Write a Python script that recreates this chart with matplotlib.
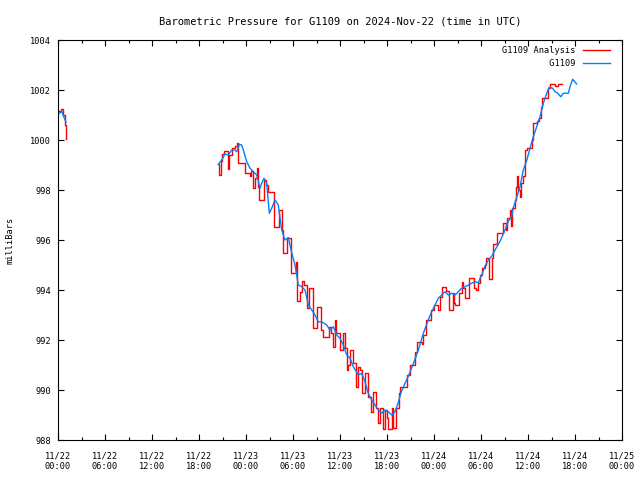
import numpy as np
import pandas as pd
import matplotlib
matplotlib.use("Agg")
import matplotlib.pyplot as plt
import matplotlib.dates as mdates

# hours after 2024-11-22 00:00 UTC, pressure in mb
red_hours = [0.0, 0.38, 0.64, 0.9, 1.0,
             20.47, 20.6, 20.8, 20.97, 21.19, 21.66, 21.87, 22.17, 22.6, 22.79,
             23.02, 23.87, 24.51, 24.64, 24.86, 25.2, 25.37, 25.57, 25.7, 26.3,
             26.55, 26.85, 27.57, 28.25, 28.56, 28.76, 29.2, 29.7, 30.38, 30.55,
             30.9, 31.11, 31.4, 31.75, 32.08, 32.51, 32.6, 33.1, 33.54, 33.79,
             34.63, 34.85, 35.15, 35.4, 35.55, 36.0, 36.34, 36.64, 36.86, 37.02,
             37.28, 37.62, 38.04, 38.34, 38.55, 38.77, 39.19, 39.61, 39.92, 40.18,
             40.6, 40.89, 41.11, 41.53, 41.74, 41.94, 42.17, 42.64, 42.77, 43.09,
             43.57, 43.65, 44.51, 44.94, 45.57, 45.79, 46.43, 46.63, 46.98, 47.58,
             48.0, 48.51, 48.77, 48.98, 49.53, 49.96, 50.39, 50.56, 50.69, 51.2,
             51.53, 51.7, 51.96, 52.51, 53.05, 53.36, 53.62, 53.87, 54.09, 54.51,
             54.68, 55.06, 55.37, 55.5, 56.0, 56.77, 57.13, 57.28, 57.7, 57.87,
             58.0, 58.34, 58.47, 58.55, 58.73, 59.04, 59.11, 59.36, 59.64, 59.85,
             60.47, 60.68, 61.15, 61.44, 61.62, 61.75, 62.51, 62.81, 63.45, 63.83,
             64.34]
red_mb = [1001.15, 1001.25, 1001.0, 1000.6, 1000.05,
          999.05, 998.6, 999.15, 999.45, 999.55, 998.85, 999.4, 999.67, 999.75, 999.9,
          999.07, 998.67, 998.55, 998.75, 998.07, 998.5, 998.87, 998.13, 997.6, 998.4,
          998.2, 997.93, 996.53, 997.2, 996.4, 995.5, 996.1, 994.7, 995.13, 993.55,
          993.93, 994.35, 994.2, 993.27, 994.07, 993.53, 992.47, 993.33, 992.4, 992.13,
          992.53, 992.3, 991.73, 992.8, 992.3, 991.6, 992.27, 991.7, 990.8, 991.0,
          991.6, 991.07, 990.13, 990.93, 990.8, 989.87, 990.67, 989.73, 989.13, 989.93,
          989.3, 988.67, 989.3, 988.45, 989.2, 988.9, 988.45, 989.3, 988.5, 989.3,
          989.87, 990.13, 990.6, 991.0, 991.53, 991.93, 991.85, 992.2, 992.8, 993.2,
          993.4, 993.2, 993.73, 994.13, 993.95, 993.2, 993.87, 993.5, 993.4, 993.9,
          994.33, 994.1, 993.67, 994.47, 994.1, 994.0, 994.27, 994.6, 994.87, 995.0,
          995.3, 994.45, 995.27, 995.85, 996.27, 996.67, 996.4, 996.9, 997.2, 996.55,
          997.3, 997.6, 998.13, 998.55, 998.0, 997.73, 998.3, 998.55, 999.6, 999.67,
          1000.0, 1000.67, 1000.75, 1000.87, 1001.33, 1001.67, 1002.07, 1002.24, 1002.18, 1002.24,
          1002.24]

blue_hours = [0.0, 0.17, 0.51, 0.77, 1.02,
              20.47, 20.9, 21.32, 21.74, 22.17, 22.6, 22.81, 23.15, 23.45, 23.66,
              24.09, 24.51, 24.93, 25.37, 25.79, 26.0, 26.3, 26.64, 26.98, 27.28,
              27.7, 28.12, 28.56, 28.98, 29.4, 29.83, 30.26, 30.68, 31.11, 31.53,
              31.96, 32.39, 32.81, 33.23, 33.66, 34.3, 34.72, 35.15, 35.58, 36.0,
              36.42, 36.86, 37.28, 37.7, 38.34, 38.77, 39.19, 39.61, 40.05, 40.47,
              40.89, 41.32, 41.74, 42.17, 42.6, 43.02, 43.44, 43.79, 44.3, 44.72,
              45.36, 46.0, 46.64, 47.27, 47.7, 48.13, 48.55, 48.98, 49.4, 49.83,
              50.26, 50.68, 51.1, 51.53, 51.96, 52.38, 52.81, 53.23, 53.66, 54.09,
              54.51, 54.94, 55.37, 55.79, 56.43, 57.07, 57.49, 57.92, 58.13, 58.55,
              58.98, 59.4, 59.85, 60.26, 60.68, 61.11, 61.53, 61.96, 62.39, 62.72,
              63.15, 63.45, 63.74, 64.18, 64.51, 65.15, 65.36, 65.7, 66.21]
blue_mb = [1001.05, 1001.07, 1001.13, 1000.9, 1000.72,
           999.03, 999.2, 999.44, 999.4, 999.6, 999.6, 999.53, 999.83, 999.8, 999.6,
           999.13, 998.87, 998.73, 998.6, 998.07, 998.27, 998.47, 998.27, 997.07, 997.27,
           997.6, 997.4, 996.4, 996.0, 996.1, 995.5, 995.0, 994.2, 994.13, 994.0,
           993.4, 993.2, 993.0, 992.73, 992.73, 992.6, 992.4, 992.53, 992.2, 992.07,
           991.8, 991.4, 991.27, 990.93, 990.6, 990.67, 990.33, 989.87, 989.6, 989.4,
           989.2, 989.07, 989.2, 989.13, 989.0, 989.13, 989.5, 989.9, 990.27, 990.55,
           991.05, 991.6, 992.27, 992.8, 993.13, 993.4, 993.67, 993.8, 993.93, 993.8,
           993.87, 993.8, 993.93, 994.07, 994.13, 994.2, 994.27, 994.33, 994.3, 994.6,
           994.95, 995.2, 995.35, 995.6, 995.95, 996.4, 996.75, 996.95, 997.3, 997.7,
           998.13, 998.8, 999.2, 999.67, 1000.13, 1000.53, 1000.93, 1001.47, 1001.87, 1002.11,
           1002.07, 1001.93, 1001.89, 1001.73, 1001.87, 1001.87, 1002.13, 1002.43, 1002.24]

series_labels = ["G1109 Analysis", "G1109"]
yticks = list(range(988, 1005, 2))
start = pd.Timestamp("2024-11-22 00:00")
end = pd.Timestamp("2024-11-25 00:00")


def with_gaps(hours, vals):
    # break the line where there is no data for a long while
    h = np.array(hours, dtype=float)
    v = np.array(vals, dtype=float)
    cut = np.where(np.diff(h) > 5)[0] + 1
    h = np.insert(h, cut, np.nan)
    v = np.insert(v, cut, np.nan)
    t = [start + pd.Timedelta(hours=x) if not np.isnan(x) else pd.NaT for x in h]
    return pd.to_datetime(t), v


plt.rcParams["font.family"] = "DejaVu Sans Mono"
plt.rcParams["font.size"] = 6.2

fig = plt.figure(figsize=(6.4, 4.8), dpi=100)
ax = fig.add_axes([58 / 640, 40 / 480, 564 / 640, 400 / 480])

rt, rv = with_gaps(red_hours, red_mb)
bt, bv = with_gaps(blue_hours, blue_mb)
width = max(len(s) for s in series_labels)
ax.plot(rt, rv, color="#ff0000", lw=1.0, drawstyle="steps-post",
        label=series_labels[0].rjust(width))
ax.plot(bt, bv, color="#0080ff", lw=1.0, label=series_labels[1].rjust(width))

ax.set_xlim(start, end)
ax.set_ylim(988, 1004)
ax.set_yticks(yticks)
ax.xaxis.set_major_locator(mdates.HourLocator(byhour=range(0, 24, 6)))
ax.xaxis.set_minor_locator(mdates.HourLocator(byhour=range(0, 24, 3)))
ax.xaxis.set_major_formatter(mdates.DateFormatter("%m/%d\n%H:%M"))
ax.tick_params(which="both", direction="in", top=True, right=True, width=0.8)
ax.tick_params(which="major", length=4)
ax.tick_params(axis="x", which="major", pad=8)
ax.tick_params(axis="y", which="major", pad=5)
ax.tick_params(which="minor", length=2.5)
for sp in ax.spines.values():
    sp.set_linewidth(0.8)

ax.set_title("Barometric Pressure for G1109 on 2024-Nov-22 (time in UTC)", pad=11)
ax.set_ylabel("milliBars")
ax.yaxis.set_label_coords(-0.077, 0.5)

leg = ax.legend(loc="upper right", frameon=False, markerfirst=False,
                handlelength=3.2, handletextpad=0.8, labelspacing=0.45,
                borderaxespad=0.3, bbox_to_anchor=(0.99, 1.0))

fig.savefig("out.png", dpi=100)
